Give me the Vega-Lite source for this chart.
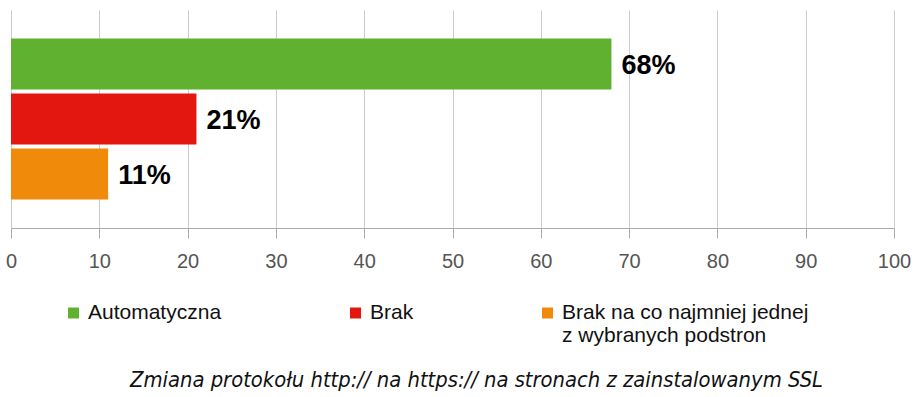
{
  "$schema": "https://vega.github.io/schema/vega-lite/v6.json",
  "width": 883,
  "height": 218,
  "autosize": {"type": "none"},
  "padding": {"left": 11, "top": 10, "right": 24, "bottom": 169},
  "background": "white",
  "title": {
    "text": "Zmiana protokołu http:// na https:// na stronach z zainstalowanym SSL",
    "orient": "bottom",
    "anchor": "middle",
    "dx": 24,
    "offset": 24,
    "font": "DejaVu Sans Condensed",
    "fontStyle": "italic",
    "fontWeight": "normal",
    "fontSize": 21.8,
    "color": "#111111"
  },
  "data": {
    "values": [
      {"kategoria": "Automatyczna", "wartosc": 68, "etykieta": "68%"},
      {"kategoria": "Brak", "wartosc": 21, "etykieta": "21%"},
      {"kategoria": "Brak na co najmniej jednej z wybranych podstron", "wartosc": 11, "etykieta": "11%"}
    ]
  },
  "config": {
    "view": {"stroke": null},
    "font": "Liberation Sans"
  },
  "encoding": {
    "y": {
      "field": "kategoria",
      "type": "nominal",
      "sort": null,
      "scale": {"paddingInner": 0.073, "paddingOuter": 0.52},
      "axis": null
    },
    "x": {
      "field": "wartosc",
      "type": "quantitative",
      "scale": {"domain": [0, 100], "nice": false},
      "axis": {
        "title": null,
        "values": [0, 10, 20, 30, 40, 50, 60, 70, 80, 90, 100],
        "grid": true,
        "gridColor": "#cccccc",
        "gridWidth": 1,
        "domainColor": "#aaaaaa",
        "tickColor": "#aaaaaa",
        "tickSize": 10,
        "labelFontSize": 20,
        "labelColor": "#555555",
        "labelPadding": 13,
        "labelFlush": false,
        "labelFont": "Liberation Sans"
      }
    }
  },
  "layer": [
    {
      "mark": {"type": "bar"},
      "encoding": {
        "color": {
          "field": "kategoria",
          "type": "nominal",
          "sort": null,
          "scale": {"range": ["#5fb12f", "#e3170f", "#ef8a0a"]},
          "legend": {
            "title": null,
            "orient": "none",
            "legendX": 52,
            "legendY": 292,
            "direction": "horizontal",
            "columns": 3,
            "columnPadding": 123,
            "clipHeight": 22,
            "symbolType": "square",
            "symbolSize": 121,
            "symbolStrokeWidth": 0,
            "labelFontSize": 21,
            "labelColor": "#111111",
            "labelOffset": 4,
            "labelLimit": 400,
            "labelBaseline": "middle",
            "labelExpr": "datum.label == 'Brak na co najmniej jednej z wybranych podstron' ? ['Brak na co najmniej jednej', 'z wybranych podstron'] : [datum.label, ' ']"
          }
        }
      }
    },
    {
      "mark": {
        "type": "text",
        "align": "left",
        "baseline": "middle",
        "dx": 10,
        "dy": 2,
        "fontSize": 27,
        "fontWeight": "bold",
        "color": "#000000",
        "font": "Liberation Sans"
      },
      "encoding": {
        "text": {"field": "etykieta"}
      }
    }
  ]
}
